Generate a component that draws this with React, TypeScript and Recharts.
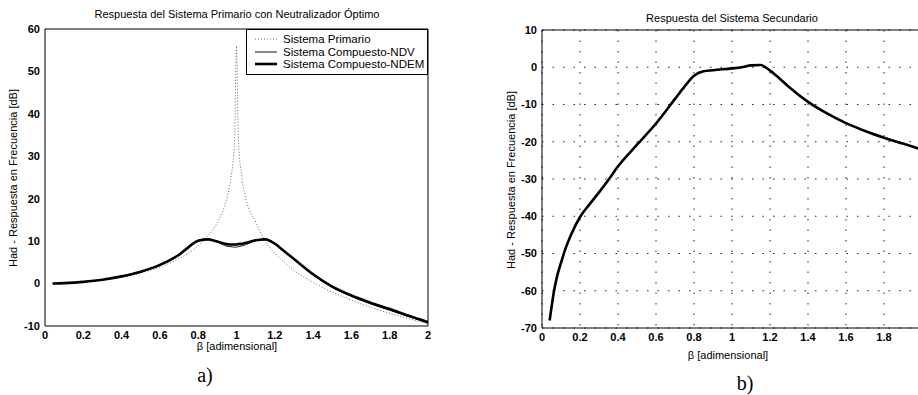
import React from 'react';
import { LineChart, Line, XAxis, YAxis, CartesianGrid } from 'recharts';

// panel a) primary system with optimal neutralizer
const betaA = [0.04, 0.1, 0.2, 0.3, 0.4, 0.5, 0.6, 0.7, 0.75, 0.8, 0.85, 0.9, 0.95, 0.97, 0.99, 1.0, 1.01, 1.03, 1.05, 1.1, 1.15, 1.2, 1.25, 1.3, 1.4, 1.5, 1.6, 1.7, 1.8, 1.9, 2.0];
const primario = [0, 0.1, 0.35, 0.8, 1.5, 2.5, 3.9, 5.9, 7.2, 8.9, 11.2, 14.4, 20.2, 24.5, 34, 56, 34, 24.4, 19.8, 14.5, 10, 7.1, 5, 3.1, 0.3, -2, -3.9, -5.6, -7, -8.3, -9.5];
const ndv = [0, 0.1, 0.4, 0.9, 1.6, 2.7, 4.3, 6.8, 8.7, 10.2, 10.6, 9.8, 8.8, 8.7, 8.6, 8.6, 8.7, 8.9, 9.2, 10.1, 10.6, 9.5, 7.6, 5.7, 2.0, -0.9, -3.0, -4.8, -6.3, -7.8, -9.2];
const ndem = [0, 0.1, 0.4, 0.9, 1.7, 2.8, 4.4, 6.8, 8.6, 10.1, 10.4, 9.9, 9.3, 9.2, 9.2, 9.2, 9.3, 9.4, 9.6, 10.2, 10.4, 9.4, 7.6, 5.8, 2.2, -0.7, -2.8, -4.5, -6, -7.6, -9.1];

// panel b) secondary system
const betaB = [0.04, 0.05, 0.06, 0.08, 0.1, 0.125, 0.15, 0.2, 0.25, 0.3, 0.35, 0.4, 0.5, 0.6, 0.7, 0.75, 0.8, 0.85, 0.9, 1.0, 1.05, 1.1, 1.15, 1.2, 1.25, 1.3, 1.4, 1.5, 1.6, 1.7, 1.8, 1.9, 2.0];
const secundario = [-68, -64.5, -61, -56, -52.5, -48.5, -45.3, -40.2, -36.8, -33.6, -30.2, -26.6, -20.8, -15.1, -8.5, -5.2, -2.3, -1.1, -0.8, -0.3, 0, 0.5, 0.6, -0.9, -3, -5.3, -9.3, -12.4, -15, -17.1, -18.9, -20.5, -22.1];

const xTicks = [0, 0.2, 0.4, 0.6, 0.8, 1, 1.2, 1.4, 1.6, 1.8, 2];
const xLabelsB = [0, 0.2, 0.4, 0.6, 0.8, 1, 1.2, 1.4, 1.6, 1.8];
const yTicksA = [-10, 0, 10, 20, 30, 40, 50, 60];
const yTicksB = [-70, -60, -50, -40, -30, -20, -10, 0, 10];

const seriesA = [
  { key: 'primario', name: 'Sistema Primario', color: '#666', width: 1, dash: '1 2' },
  { key: 'ndv', name: 'Sistema Compuesto-NDV', color: '#111', width: 1, dash: undefined },
  { key: 'ndem', name: 'Sistema Compuesto-NDEM', color: '#000', width: 2.6, dash: undefined },
];

const dataA = betaA.map((b, i) => ({ b, primario: primario[i], ndv: ndv[i], ndem: ndem[i] }));
const dataB = betaB.map((b, i) => ({ b, secundario: secundario[i] }));

const FONT = '"Liberation Sans", Arial, sans-serif';
const tickStyle = { fontSize: 11, fontWeight: 700, fill: '#000', fontFamily: FONT };

function fmt(v: number) {
  return String(v);
}

// matlab-style box: labels outside, tick marks pointing in on all four sides
function boxAxes(xDomain: number[], xLabels: number[], yDomain: number[], yTicks: number[], yWidth: number) {
  return [
    <XAxis key="xb" xAxisId={0} dataKey="b" type="number" domain={xDomain} ticks={xLabels} tickFormatter={fmt}
      tickLine={false} tickSize={2} tickMargin={3} height={30} stroke="#000" tick={tickStyle} allowDataOverflow />,
    <XAxis key="xbi" xAxisId="bi" type="number" domain={xDomain} ticks={xTicks} mirror tick={false} axisLine={false}
      tickSize={4} height={10} stroke="#000" />,
    <XAxis key="xt" xAxisId="t" orientation="top" type="number" domain={xDomain} ticks={xTicks} mirror tick={false}
      tickSize={4} height={10} stroke="#000" />,
    <YAxis key="yl" yAxisId={0} type="number" domain={yDomain} ticks={yTicks} tickLine={false} tickSize={2}
      tickMargin={3} width={yWidth} stroke="#000" tick={tickStyle} allowDataOverflow />,
    <YAxis key="yli" yAxisId="li" type="number" domain={yDomain} ticks={yTicks} mirror tick={false} axisLine={false}
      tickSize={4} width={10} stroke="#000" />,
    <YAxis key="yr" yAxisId="r" orientation="right" type="number" domain={yDomain} ticks={yTicks} mirror tick={false}
      tickSize={4} width={10} stroke="#000" />,
  ];
}

const abs = (left: number, top: number, extra: React.CSSProperties = {}): React.CSSProperties => ({
  position: 'absolute', left, top, fontFamily: FONT, color: '#000', whiteSpace: 'nowrap', ...extra,
});

function LegendBox() {
  return (
    <div style={abs(246, 29, { width: 182, height: 46, border: '1px solid #000', background: '#fff', fontSize: 11.5, boxSizing: 'border-box', padding: '3px 0 0 8px' })}>
      {seriesA.map((s) => (
        <div key={s.key} style={{ display: 'flex', alignItems: 'center', height: 12.5 }}>
          <svg width={22} height={6} style={{ marginRight: 6 }}>
            <line x1={0} y1={3} x2={22} y2={3} stroke={s.color} strokeWidth={s.width} strokeDasharray={s.dash} />
          </svg>
          <span>{s.name}</span>
        </div>
      ))}
    </div>
  );
}

export default function App() {
  return (
    <div style={{ position: 'absolute', left: 0, top: 0, width: 918, height: 395, overflow: 'hidden', background: '#fff' }}>
      {/* a) */}
      <div style={abs(0, 0)}>
        <LineChart width={460} height={395} data={dataA} margin={{ top: 29, right: 32, bottom: 39, left: 0 }}>
          {boxAxes([0, 2], xTicks, [-10, 60], yTicksA, 45)}
          {seriesA.map((s) => (
            <Line key={s.key} dataKey={s.key} name={s.name} type="monotone" stroke={s.color} strokeWidth={s.width}
              strokeDasharray={s.dash} dot={false} isAnimationActive={false} />
          ))}
        </LineChart>
      </div>
      <LegendBox />
      <div style={abs(237, 8, { transform: 'translateX(-50%)', fontSize: 11 })}>
        Respuesta del Sistema Primario con Neutralizador Óptimo
      </div>
      <div style={abs(237, 340, { transform: 'translateX(-50%)', fontSize: 11 })}>β [adimensional]</div>
      <div style={abs(13, 178, { transform: 'translate(-50%, -50%) rotate(-90deg)', fontSize: 11 })}>
        Had - Respuesta en Frecuencia [dB]
      </div>
      <div style={abs(205, 364, { transform: 'translateX(-50%)', fontSize: 20, fontFamily: '"Liberation Serif", serif' })}>a)</div>

      {/* b) */}
      <div style={abs(460, 0)}>
        <LineChart width={480} height={395} data={dataB} margin={{ top: 30, right: 18, bottom: 37, left: 0 }}>
          <CartesianGrid stroke="#222" strokeDasharray="1.5 9" horizontalValues={yTicksB} verticalValues={xTicks} />
          {boxAxes([0, 2], xLabelsB, [-70, 10], yTicksB, 82)}
          <Line dataKey="secundario" name="Sistema Secundario" type="monotone" stroke="#000" strokeWidth={2.6}
            dot={false} isAnimationActive={false} />
        </LineChart>
      </div>
      <div style={abs(732, 12, { transform: 'translateX(-50%)', fontSize: 11 })}>Respuesta del Sistema Secundario</div>
      <div style={abs(728, 349, { transform: 'translateX(-50%)', fontSize: 11 })}>β [adimensional]</div>
      <div style={abs(511, 180, { transform: 'translate(-50%, -50%) rotate(-90deg)', fontSize: 11 })}>
        Had - Respuesta en Frecuencia [dB]
      </div>
      <div style={abs(745, 372, { transform: 'translateX(-50%)', fontSize: 20, fontFamily: '"Liberation Serif", serif' })}>b)</div>
    </div>
  );
}
